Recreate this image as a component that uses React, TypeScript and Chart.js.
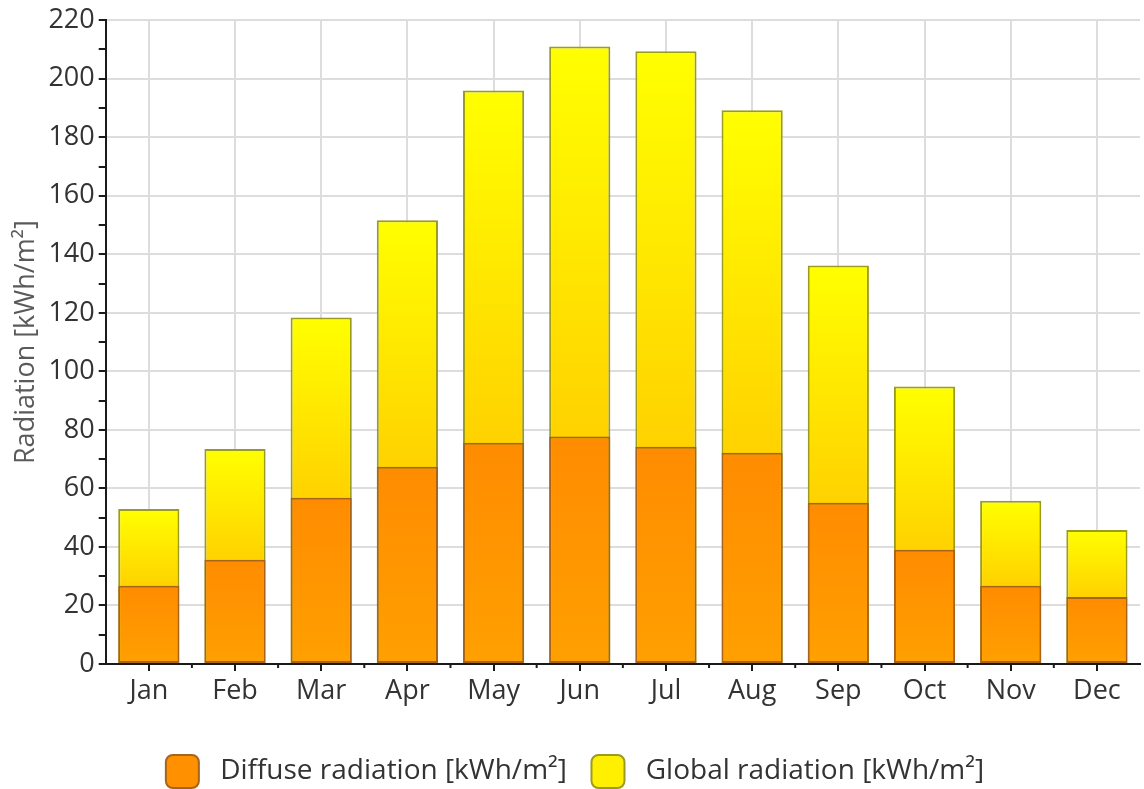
import React, { useEffect, useRef } from "react";
import { Chart, registerables } from "chart.js";

Chart.register(...registerables);

const months = ["Jan", "Feb", "Mar", "Apr", "May", "Jun", "Jul", "Aug", "Sep", "Oct", "Nov", "Dec"];
const diffuse = [26.7, 35.6, 56.8, 67.4, 75.6, 77.7, 74.2, 72.2, 55.1, 39.0, 26.7, 22.9];
const globalRad = [53.0, 73.5, 118.4, 151.6, 196.0, 211.0, 209.4, 189.2, 136.2, 94.8, 55.8, 45.8];
const diffuseLabel = "Diffuse radiation [kWh/m²]";
const globalLabel = "Global radiation [kWh/m²]";
const yTitle = "Radiation [kWh/m²]";

const FONT = "'Open Sans', 'Noto Sans', sans-serif";

function gradientFill(topColor: string, bottomColor: string, baseValues: number[] | null) {
  return (ctx: any) => {
    const chart = ctx.chart;
    const area = chart.chartArea;
    if (!area || ctx.type !== "data") return topColor;
    const y = chart.scales.y;
    const v = ctx.raw as number;
    const top = y.getPixelForValue(v);
    const bottom = y.getPixelForValue(baseValues ? baseValues[ctx.dataIndex] : 0);
    if (!isFinite(top) || !isFinite(bottom) || Math.abs(bottom - top) < 1) return topColor;
    const g = chart.ctx.createLinearGradient(0, top, 0, bottom);
    g.addColorStop(0, topColor);
    g.addColorStop(1, bottomColor);
    return g;
  };
}

const minorTicks = {
  id: "minorTicks",
  afterDraw(chart: any) {
    const x = chart.scales.x;
    const ctx = chart.ctx;
    const yPix = chart.chartArea.bottom;
    ctx.save();
    ctx.strokeStyle = "#1a1a1a";
    ctx.lineWidth = 2;
    const n = months.length;
    for (let i = 1; i < n; i++) {
      const px = (x.getPixelForValue(i - 1) + x.getPixelForValue(i)) / 2;
      ctx.beginPath();
      ctx.moveTo(px, yPix);
      ctx.lineTo(px, yPix + 4);
      ctx.stroke();
    }
    ctx.restore();
  },
};

export default function App() {
  const ref = useRef<HTMLCanvasElement | null>(null);
  useEffect(() => {
    if (!ref.current) return;
    const chart = new Chart(ref.current, {
      type: "bar",
      data: {
        labels: months,
        datasets: [
          {
            label: diffuseLabel,
            data: diffuse,
            backgroundColor: gradientFill("#FF8C00", "#FFA000", null),
            borderColor: "#A8641A",
            borderWidth: 2,
            borderSkipped: false,
          },
          {
            label: globalLabel,
            data: globalRad,
            backgroundColor: gradientFill("#FFFF00", "#FFD200", diffuse),
            borderColor: "#9B9B1F",
            borderWidth: 2,
            borderSkipped: false,
          },
        ],
      },
      options: {
        responsive: false,
        animation: false,
        devicePixelRatio: 1,
        datasets: {
          bar: { grouped: false, categoryPercentage: 1, barPercentage: 0.71 },
        },
        layout: { padding: { top: 6, right: 4, left: 10, bottom: -9 } },
        plugins: {
          tooltip: { enabled: false },
          legend: {
            position: "bottom",
            labels: {
              font: { family: FONT, size: 28 },
              color: "#333333",
              boxWidth: 33,
              boxHeight: 33,
              padding: 10,
              useBorderRadius: true,
              borderRadius: 7,
              generateLabels: () => [
                {
                  text: " " + diffuseLabel + "  ",
                  fillStyle: "#FF9000",
                  strokeStyle: "#A8641A",
                  lineWidth: 2,
                  hidden: false,
                  datasetIndex: 0,
                  borderRadius: 7,
                  fontColor: "#333333",
                },
                {
                  text: " " + globalLabel,
                  fillStyle: "#FFF000",
                  strokeStyle: "#9B9B1F",
                  lineWidth: 2,
                  hidden: false,
                  datasetIndex: 1,
                  borderRadius: 7,
                  fontColor: "#333333",
                },
              ],
            },
          },
        },
        scales: {
          x: {
            offset: true,
            afterFit: (scale: any) => {
              scale.height = 81;
            },
            border: { display: true, color: "#1a1a1a", width: 2 },
            grid: {
              offset: false,
              color: "#dddddd",
              lineWidth: 2,
              tickColor: "#1a1a1a",
              tickLength: 7,
              drawTicks: true,
            },
            ticks: {
              font: { family: FONT, size: 27 },
              color: "#333333",
              padding: 4,
              maxRotation: 0,
            },
          },
          y: {
            min: 0,
            max: 220,
            border: { display: true, color: "#1a1a1a", width: 2 },
            grid: {
              color: (c: any) => (c.tick && c.tick.value % 20 === 0 ? "#dddddd" : "rgba(0,0,0,0)"),
              lineWidth: 2,
              tickColor: "#1a1a1a",
              tickLength: 7,
            },
            ticks: {
              stepSize: 10,
              autoSkip: false,
              font: { family: FONT, size: 27 },
              color: "#333333",
              padding: 4,
              callback: (v: any) => (Number(v) % 20 === 0 ? String(v) : ""),
            },
            title: {
              display: true,
              text: yTitle,
              font: { family: FONT, size: 27 },
              color: "#5a5a5a",
              padding: { top: 0, bottom: 2 },
            },
          },
        },
      },
      plugins: [minorTicks],
    });
    return () => chart.destroy();
  }, []);
  return (
    <div style={{ position: "absolute", left: 0, top: 0, width: 1144, height: 789, background: "#fff" }}>
      <canvas ref={ref} width={1144} height={789} />
    </div>
  );
}
